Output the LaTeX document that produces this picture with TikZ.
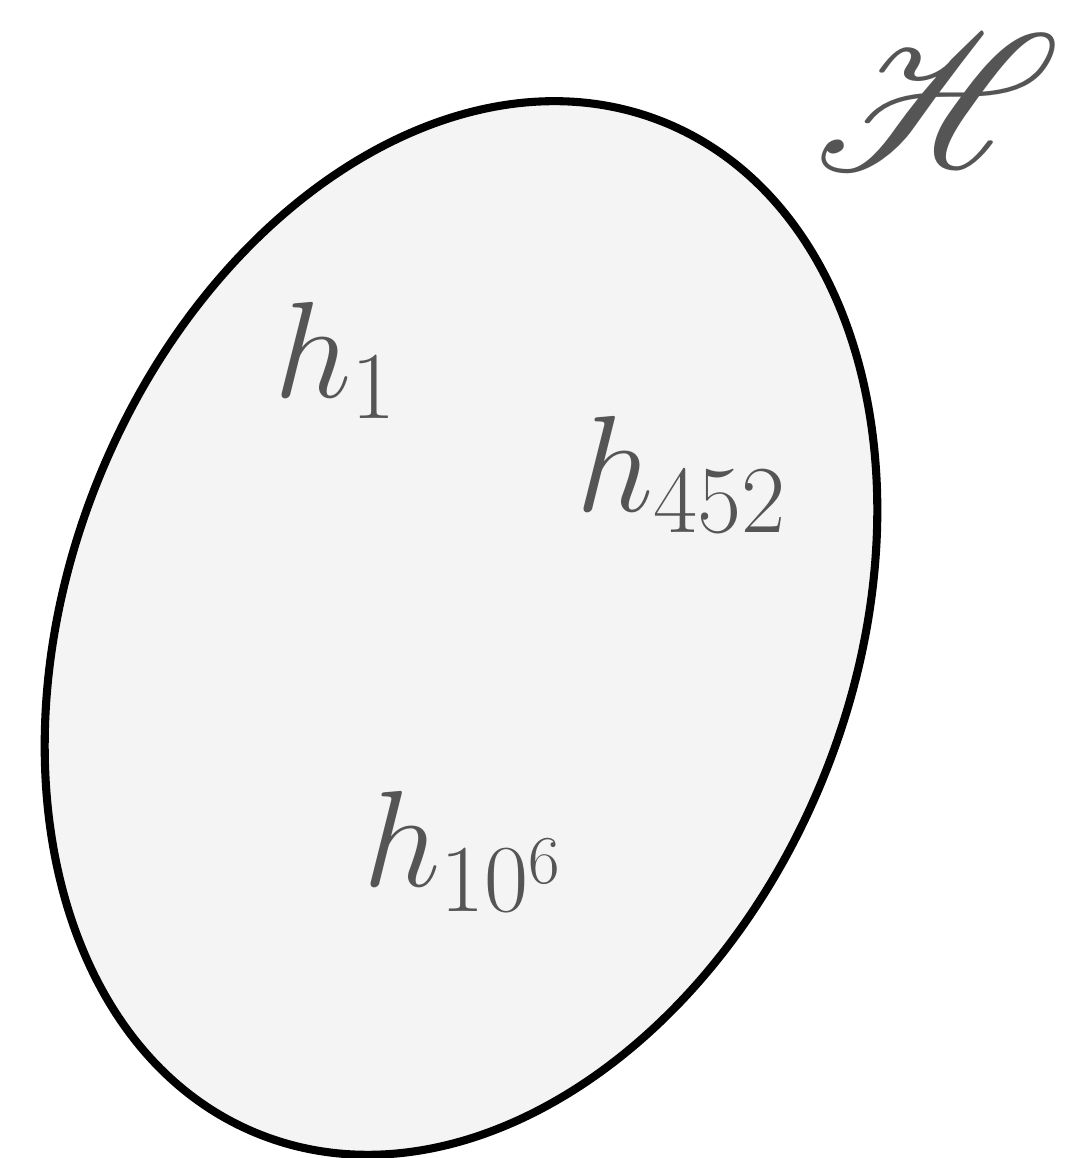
\RequirePackage{fix-cm}
\documentclass[tikz,border=0pt]{standalone}
\usepackage{amsmath}
\usepackage{mathrsfs}
\DeclareFontFamily{U}{rsfs}{\skewchar\font127 }
\DeclareFontShape{U}{rsfs}{m}{n}{<-> rsfs10}{}
\usepackage{tikz}
\usetikzlibrary{positioning,calc}
\definecolor{setfill}{HTML}{F4F4F4}
\definecolor{labelgray}{HTML}{555555}
\newcommand{\lblfont}{\fontsize{39}{42}\selectfont}
\newcommand{\spacefont}{\fontsize{55}{58}\selectfont}
\newcommand{\rx}{5.45cm}
\newcommand{\ry}{3.92cm}
\newcommand{\tilt}{68.3}

\begin{document}
\begin{tikzpicture}

  \useasboundingbox (0,0) rectangle (10.77,11.58);

  % the set
  \draw [line width=2.3pt,
  draw=black,
  fill=setfill,
  rotate around={\tilt:(4.61,5.30)}] (4.61,5.30) ellipse [x radius=\rx, y radius=\ry];

  % elements
  \node [inner sep=0pt,
  anchor=base west,
  text=labelgray,
  font=\lblfont] (h1) at (2.74,7.60) {$h_1$};

  \node [inner sep=0pt,
  anchor=base west,
  text=labelgray,
  font=\lblfont] (h452) at (5.76,6.46) {$h_{452}$};

  \node [inner sep=0pt,
  anchor=base west,
  text=labelgray,
  font=\lblfont] (hmil) at (3.63,2.71) {$h_{10^6}$};

  % name of the space
  \node [inner sep=0pt,
  anchor=center,
  text=labelgray,
  font=\spacefont] (space) at (9.38,10.56) {$\mathscr{H}$};

\end{tikzpicture}
\end{document}
